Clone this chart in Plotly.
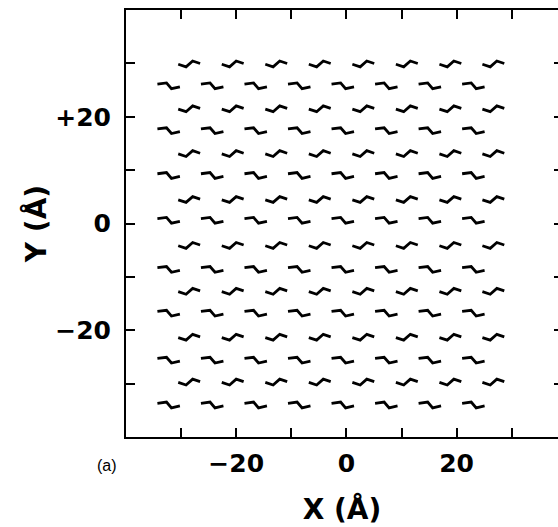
import plotly.graph_objects as go

# Molecule centres (Angstrom)
A_ROW_Y = [29.9, 21.5, 13.1, 4.5, -4.1, -12.7, -21.3, -29.7]
B_ROW_Y = [25.8, 17.4, 9.0, 0.6, -8.6, -16.8, -25.6, -34.0]
A_COL_X = [-28.5, -20.6, -12.7, -4.8, 3.1, 11.0, 18.9, 26.7]
B_COL_X = [-32.2, -24.3, -16.4, -8.5, -0.6, 7.3, 15.2, 23.1]

# Zig-zag molecule outlines relative to their centre (Angstrom)
A_SHAPE_DX = [-2.02, -0.6, 0.6, 1.95]
A_SHAPE_DY = [-0.07, -0.55, 0.54, 0.07]
B_SHAPE_DX = [-2.1, -0.45, 0.45, 1.98]
B_SHAPE_DY = [0.32, 0.54, -0.54, -0.19]

TICK_VALS = [-30, -20, -10, 0, 10, 20, 30]
X_TICK_TEXT = ["", "\u221220", "", "0", "", "20", ""]
Y_TICK_TEXT = ["", "\u221220", "", "0", "", "+20", ""]

xs, ys = [], []
for rows, cols, dxs, dys in ((A_ROW_Y, A_COL_X, A_SHAPE_DX, A_SHAPE_DY),
                             (B_ROW_Y, B_COL_X, B_SHAPE_DX, B_SHAPE_DY)):
    for yc in rows:
        for xc in cols:
            xs += [xc + d for d in dxs] + [None]
            ys += [yc + d for d in dys] + [None]

fig = go.Figure()
fig.add_trace(go.Scatter(x=xs, y=ys, mode="lines",
                         line=dict(color="black", width=2.8),
                         hoverinfo="skip", showlegend=False))

# right-side ticks (frame line lies just outside the picture)
fig.add_trace(go.Scatter(x=[None], y=[None], yaxis="y2", showlegend=False))

tickfont = dict(family="DejaVu Sans", size=25, color="black", weight="bold")
titlefont = dict(family="DejaVu Sans", size=28, color="black", weight="bold")
fig.update_layout(
    width=558, height=527,
    margin=dict(l=126, r=0, t=10, b=90),
    paper_bgcolor="white", plot_bgcolor="white",
    xaxis=dict(range=[-40, 38.4], tickvals=TICK_VALS, ticktext=X_TICK_TEXT,
               ticks="inside", ticklen=9, tickwidth=2, tickcolor="black",
               showline=True, linewidth=2, linecolor="black", mirror="ticks",
               showgrid=False, zeroline=False, tickfont=tickfont,
               ticklabelstandoff=3,
               title=dict(text="X (\u00c5)", standoff=22, font=titlefont)),
    yaxis=dict(range=[-40, 40], tickvals=TICK_VALS, ticktext=Y_TICK_TEXT,
               ticks="inside", ticklen=9, tickwidth=2, tickcolor="black",
               showline=True, linewidth=2, linecolor="black",
               showgrid=False, zeroline=False, tickfont=tickfont,
               ticklabelstandoff=8,
               title=dict(text="Y (\u00c5)", standoff=0, font=titlefont)),
    yaxis2=dict(range=[-40, 40], overlaying="y", side="right", tickvals=TICK_VALS,
                showticklabels=False, ticks="inside", ticklen=4, tickwidth=2,
                tickcolor="black", showline=False, showgrid=False, zeroline=False),
    annotations=[dict(text="(a)", xref="paper", yref="paper",
                      x=(107 - 126) / 432, y=(437 - 465) / 427,
                      xanchor="center", yanchor="middle", showarrow=False,
                      font=dict(family="Liberation Sans", size=16, color="black"))],
)

fig.write_html("out.html",
               config={"displayModeBar": False},
               post_script="document.body.style.margin='0';"
                           "document.body.style.overflow='hidden';")
